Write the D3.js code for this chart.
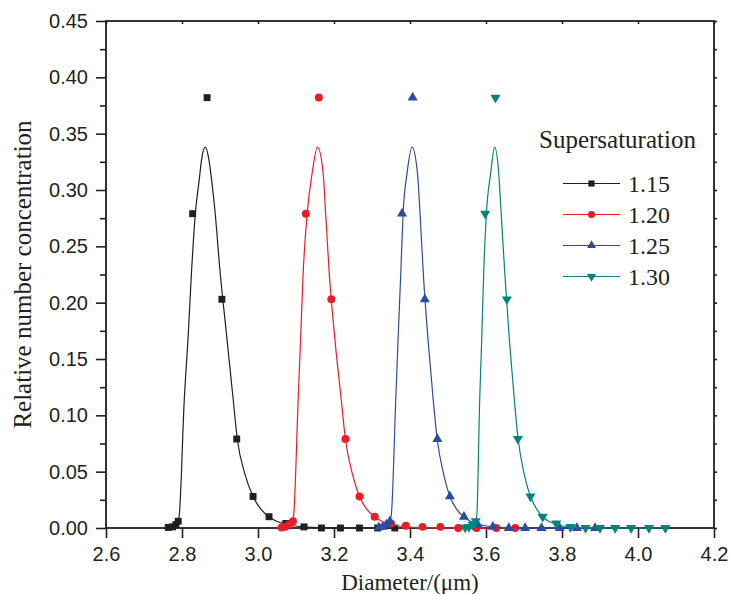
<!DOCTYPE html>
<html lang="en">
<head>
    <meta charset="UTF-8">
    <title>Supersaturation size distribution</title>
    <script src="https://d3js.org/d3.v7.min.js"></script>
    <style>
        body {
            margin: 0;
            background: #fff;
        }
        svg text {
            fill: #231f20;
        }
        .tick-label {
            font-family: "Liberation Sans", Arial, sans-serif;
            font-size: 20px;
        }
        .serif {
            font-family: "Liberation Serif", "Times New Roman", serif;
        }
    </style>
</head>
<body>
    <div id="chart"></div>

    <script>
        // series names and colours
        const seriesNames = ["1.15", "1.20", "1.25", "1.30"];
        const seriesColors = ["#231f20", "#ed1c24", "#2e4c9f", "#03837e"];

        // measured points (diameter, relative number concentration)
        const pts115x = [2.764, 2.775, 2.784, 2.790, 2.828, 2.866, 2.905, 2.944, 2.987, 3.029, 3.073, 3.121, 3.167, 3.217, 3.267, 3.315, 3.360];
        const pts115y = [0.0005, 0.001, 0.003, 0.006, 0.279, 0.382, 0.203, 0.079, 0.028, 0.010, 0.004, 0.001, 0.000, 0.000, 0.000, 0.000, 0.000];
        const pts120x = [3.062, 3.072, 3.082, 3.092, 3.126, 3.160, 3.193, 3.230, 3.267, 3.307, 3.350, 3.389, 3.433, 3.480, 3.527, 3.575, 3.627, 3.677];
        const pts120y = [0.0005, 0.001, 0.003, 0.006, 0.279, 0.382, 0.203, 0.079, 0.028, 0.010, 0.004, 0.002, 0.001, 0.001, 0.000, 0.000, 0.000, 0.000];
        const pts125x = [3.318, 3.328, 3.338, 3.347, 3.379, 3.407, 3.439, 3.472, 3.505, 3.542, 3.578, 3.618, 3.660, 3.703, 3.746, 3.794, 3.839, 3.887];
        const pts125y = [0.0005, 0.001, 0.003, 0.006, 0.279, 0.382, 0.203, 0.079, 0.028, 0.010, 0.003, 0.001, 0.000, 0.000, 0.000, 0.000, 0.000, 0.000];
        const pts130x = [3.545, 3.555, 3.565, 3.573, 3.598, 3.625, 3.655, 3.684, 3.717, 3.749, 3.785, 3.822, 3.862, 3.900, 3.940, 3.982, 4.029, 4.072];
        const pts130y = [0.0005, 0.001, 0.003, 0.006, 0.279, 0.382, 0.203, 0.079, 0.028, 0.010, 0.004, 0.001, 0.000, 0.000, 0.000, 0.000, 0.000, 0.000];

        // fitted curves
        const fit115x = [2.786, 2.790, 2.793, 2.806, 2.8164, 2.8253, 2.8359, 2.8453, 2.8516, 2.861, 2.8708, 2.8779, 2.8866, 2.8998, 2.9174, 2.9347, 2.9455, 2.9654, 2.987, 3.007, 3.029, 3.049, 3.066, 3.094, 3.121, 3.169, 3.230, 3.360];
        const fit115y = [0.000, 0.006, 0.012, 0.114, 0.171, 0.229, 0.282, 0.309, 0.327, 0.338, 0.327, 0.309, 0.282, 0.229, 0.171, 0.114, 0.079, 0.048, 0.028, 0.017, 0.010, 0.006, 0.004, 0.002, 0.001, 0.0003, 0.000, 0.000];
        const fit120x = [3.087, 3.091, 3.094, 3.1057, 3.112, 3.1188, 3.1294, 3.1425, 3.1567, 3.1714, 3.178, 3.1875, 3.2025, 3.219, 3.230, 3.2484, 3.267, 3.2855, 3.307, 3.326, 3.341, 3.367, 3.392, 3.437, 3.500, 3.677];
        const fit120y = [0.000, 0.006, 0.012, 0.114, 0.167, 0.226, 0.279, 0.315, 0.338, 0.315, 0.279, 0.226, 0.167, 0.114, 0.079, 0.048, 0.028, 0.017, 0.010, 0.006, 0.004, 0.002, 0.001, 0.0003, 0.000, 0.000];
        const fit125x = [3.343, 3.347, 3.351, 3.3625, 3.3686, 3.3757, 3.3818, 3.3923, 3.4054, 3.4196, 3.4265, 3.4350, 3.4475, 3.461, 3.4715, 3.4884, 3.505, 3.522, 3.542, 3.559, 3.573, 3.597, 3.620, 3.661, 3.720, 3.887];
        const fit125y = [0.000, 0.006, 0.012, 0.114, 0.167, 0.226, 0.279, 0.315, 0.338, 0.315, 0.279, 0.226, 0.167, 0.114, 0.079, 0.048, 0.028, 0.017, 0.010, 0.006, 0.004, 0.002, 0.001, 0.0003, 0.000, 0.000];
        const fit130x = [3.569, 3.573, 3.576, 3.5834, 3.5887, 3.5939, 3.601, 3.6123, 3.6229, 3.6334, 3.640, 3.6495, 3.6615, 3.6745, 3.6845, 3.7004, 3.717, 3.733, 3.749, 3.765, 3.778, 3.800, 3.823, 3.861, 3.920, 4.072];
        const fit130y = [0.000, 0.006, 0.012, 0.114, 0.167, 0.226, 0.279, 0.315, 0.338, 0.315, 0.279, 0.226, 0.167, 0.114, 0.079, 0.048, 0.028, 0.017, 0.010, 0.006, 0.004, 0.002, 0.001, 0.0003, 0.000, 0.000];

        // axis ticks
        const xTicks = [2.6, 2.8, 3.0, 3.2, 3.4, 3.6, 3.8, 4.0, 4.2];
        const yTicks = [0.00, 0.05, 0.10, 0.15, 0.20, 0.25, 0.30, 0.35, 0.40, 0.45];
        const yMinorTicks = [0.025, 0.075, 0.125, 0.175, 0.225, 0.275, 0.325, 0.375, 0.425];

        const pointSets = [[pts115x, pts115y], [pts120x, pts120y], [pts125x, pts125y], [pts130x, pts130y]];
        const fitSets = [[fit115x, fit115y], [fit120x, fit120y], [fit125x, fit125y], [fit130x, fit130y]];
        const symbols = [d3.symbolSquare, d3.symbolCircle, d3.symbolTriangle, d3.symbolTriangle];
        const symbolSizes = [48, 50, 44, 44];
        const symbolRotate = [0, 0, 0, 180];

        const width = 730, height = 594;
        const margin = { left: 106, right: 16, top: 21, bottom: 66 };

        const svg = d3.select("#chart").append("svg")
            .attr("width", width)
            .attr("height", height);

        const x = d3.scaleLinear().domain([2.6, 4.2]).range([margin.left, width - margin.right]);
        const y = d3.scaleLinear().domain([0, 0.45]).range([height - margin.bottom, margin.top]);

        const ink = "#231f20";

        // axes
        svg.append("g")
            .attr("transform", `translate(0,${y(0)})`)
            .call(d3.axisBottom(x).tickValues(xTicks).tickFormat(d3.format(".1f")).tickSize(10).tickSizeOuter(0).tickPadding(9));
        svg.append("g")
            .attr("transform", `translate(${x(2.6)},0)`)
            .call(d3.axisLeft(y).tickValues(yTicks).tickFormat(d3.format(".2f")).tickSize(10).tickSizeOuter(0).tickPadding(8));
        svg.append("g")
            .attr("transform", `translate(${x(2.6)},0)`)
            .call(d3.axisLeft(y).tickValues(yMinorTicks).tickFormat("").tickSize(6).tickSizeOuter(0));
        svg.append("g")
            .attr("transform", `translate(${x(4.2)},0)`)
            .call(d3.axisLeft(y).tickValues(yTicks.concat(yMinorTicks)).tickFormat("").tickSize(-3).tickSizeOuter(0));
        svg.append("g")
            .attr("transform", `translate(0,${y(0.45)})`)
            .call(d3.axisTop(x).tickValues(xTicks).tickFormat("").tickSize(-3).tickSizeOuter(0));

        svg.selectAll(".domain").remove();
        svg.selectAll(".tick line").attr("stroke", ink).attr("stroke-width", 1.6);
        svg.selectAll(".tick text").attr("class", "tick-label").attr("fill", ink);

        // frame
        svg.append("rect")
            .attr("x", x(2.6)).attr("y", y(0.45))
            .attr("width", x(4.2) - x(2.6)).attr("height", y(0) - y(0.45))
            .attr("fill", "none").attr("stroke", ink).attr("stroke-width", 1.8);

        // series
        const line = d3.line()
            .x(d => x(d[0]))
            .y(d => y(d[1]))
            .curve(d3.curveMonotoneX);

        seriesNames.forEach((name, i) => {
            const fit = d3.zip(fitSets[i][0], fitSets[i][1]);
            const pts = d3.zip(pointSets[i][0], pointSets[i][1]);
            const g = svg.append("g");
            g.append("path")
                .datum(fit)
                .attr("d", line)
                .attr("fill", "none")
                .attr("stroke", seriesColors[i])
                .attr("stroke-width", 1.2);
            g.selectAll("path.pt")
                .data(pts)
                .enter().append("path")
                .attr("class", "pt")
                .attr("d", d3.symbol().type(symbols[i]).size(symbolSizes[i]))
                .attr("transform", d => `translate(${x(d[0])},${y(d[1])}) rotate(${symbolRotate[i]})`)
                .attr("fill", seriesColors[i]);
        });

        // legend
        const legend = svg.append("g");
        legend.append("text")
            .attr("class", "serif")
            .attr("x", 539).attr("y", 148)
            .style("font-size", "25px")
            .text("Supersaturation");
        seriesNames.forEach((name, i) => {
            const ly = 183.5 + i * 31;
            legend.append("line")
                .attr("x1", 563).attr("x2", 620)
                .attr("y1", ly).attr("y2", ly)
                .attr("stroke", seriesColors[i]).attr("stroke-width", 1.2);
            legend.append("path")
                .attr("d", d3.symbol().type(symbols[i]).size(symbolSizes[i] * 0.8))
                .attr("transform", `translate(591.5,${ly}) rotate(${symbolRotate[i]})`)
                .attr("fill", seriesColors[i]);
            legend.append("text")
                .attr("class", "serif")
                .attr("x", 628).attr("y", ly + 8.5)
                .style("font-size", "24px")
                .text(name);
        });

        // axis titles
        svg.append("text")
            .attr("class", "serif")
            .attr("x", (x(2.6) + x(4.2)) / 2).attr("y", 590)
            .attr("text-anchor", "middle")
            .style("font-size", "23px")
            .text("Diameter/(\u03bcm)");
        svg.append("text")
            .attr("class", "serif")
            .attr("transform", `translate(31,${(y(0) + y(0.45)) / 2}) rotate(-90)`)
            .attr("text-anchor", "middle")
            .style("font-size", "25px")
            .text("Relative number concentration");
    </script>
</body>
</html>
